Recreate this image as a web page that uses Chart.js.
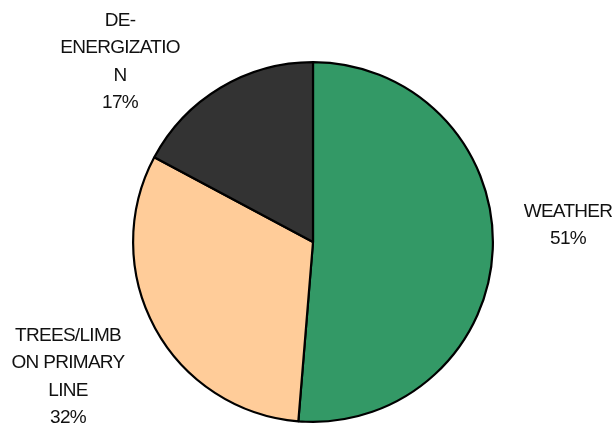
<!DOCTYPE html>
<html>
<head>
<meta charset="utf-8">
<script src="https://cdn.jsdelivr.net/npm/chart.js@4"></script>
<style>
  body { margin: 0; background: #fff; }
  #wrap { width: 615px; height: 429px; }
</style>
</head>
<body>
<div id="wrap"><canvas id="myChart"></canvas></div>
<script>
let chartLabels = ['WEATHER', 'TREES/LIMB ON PRIMARY LINE', 'DE-ENERGIZATION'];
let labelLines = [['WEATHER'], ['TREES/LIMB', 'ON PRIMARY', 'LINE'], ['DE-', 'ENERGIZATIO', 'N']];
let chartValues = [51.3, 31.5, 17.2];
let chartColors = ['#339966', '#FFCC99', '#333333'];

// where each label block is centred (x, y of first line centre)
let labelAnchors = [[568, 210], [68, 334], [120, 19]];

let pieLabels = {
    id: 'pieLabels',
    afterDraw: (chart) => {
        let c = chart.ctx;
        let total = chartValues.reduce((a, b) => a + b, 0);
        c.save();
        c.font = '19px "Liberation Sans", Arial, sans-serif';
        c.letterSpacing = '-0.7px';
        c.fillStyle = '#111';
        c.textAlign = 'center';
        c.textBaseline = 'alphabetic';
        for (let i = 0; i < chartValues.length; i++) {
            let lines = labelLines[i].concat([Math.round(chartValues[i] / total * 100) + '%']);
            let x = labelAnchors[i][0];
            let y = labelAnchors[i][1];
            lines.forEach((t, j) => {
                c.fillText(t, x, y + j * 27.3 + 7);
            });
        }
        c.restore();
    }
};

let ctx = document.getElementById('myChart').getContext('2d');
let myChart = new Chart(ctx, {
    type: 'pie',
    data: {
        labels: chartLabels,
        datasets: [{
            data: chartValues,
            backgroundColor: chartColors,
            borderColor: '#000',
            borderWidth: 2.2
        }]
    },
    options: {
        responsive: true,
        maintainAspectRatio: false,
        animation: false,
        layout: {
            padding: { top: 61, bottom: 6, left: 132, right: 121 }
        },
        plugins: {
            legend: { display: false },
            tooltip: { enabled: false }
        }
    },
    plugins: [pieLabels]
});
</script>
</body>
</html>
